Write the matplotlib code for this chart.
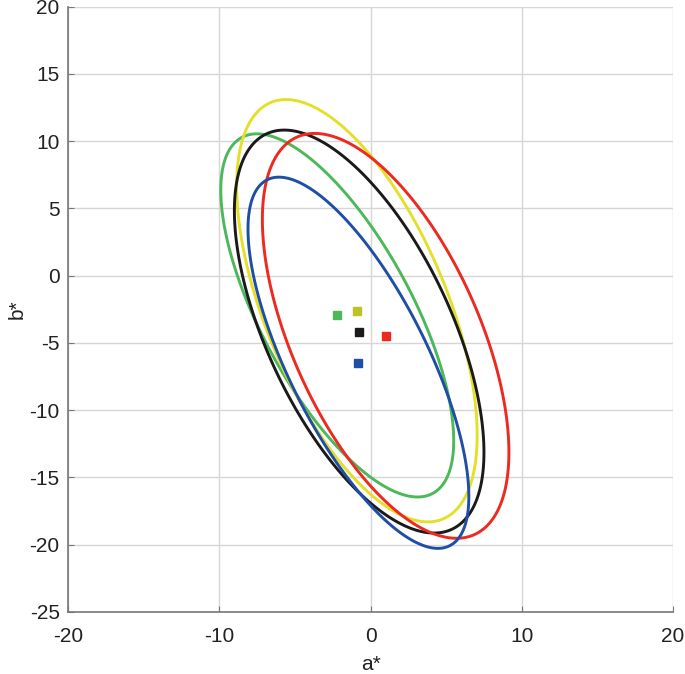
import numpy as np
import matplotlib.pyplot as plt
from matplotlib.patches import Polygon

plt.rcParams['font.family'] = ['Liberation Sans', 'DejaVu Sans']
plt.rcParams['axes.unicode_minus'] = False

# ellipse data: centre, half extent along a*/b*, correlation
names = ['green', 'yellow', 'black', 'red', 'blue']
colors = ['#4cb85a', '#e4e02a', '#1a1a1a', '#ec2a20', '#1f4ea6']
marker_colors = ['#4cb85a', '#bcc425', '#1a1a1a', '#ec2a20', '#1f4ea6']
center_a = [-2.2, -0.9, -0.75, 1.0, -0.8]
center_b = [-2.95, -2.6, -4.15, -4.47, -6.47]
half_a = [7.7, 7.95, 8.25, 8.15, 7.3]
half_b = [13.5, 15.7, 14.98, 15.05, 13.8]
rho = [-0.69, -0.59, -0.60, -0.575, -0.72]

x_ticks = [-20, -10, 0, 10, 20]
y_ticks = [-25, -20, -15, -10, -5, 0, 5, 10, 15, 20]

fig = plt.figure(figsize=(6.85, 6.74), dpi=100)
ax = fig.add_axes([0.0993, 0.092, 0.8832, 0.898])

t = np.linspace(0, 2 * np.pi, 400, endpoint=False)
for i in range(len(names)):
    x = center_a[i] + half_a[i] * np.cos(t)
    y = center_b[i] + half_b[i] * (rho[i] * np.cos(t) + np.sqrt(1 - rho[i] ** 2) * np.sin(t))
    ring = Polygon(np.column_stack([x, y]), closed=True, fill=False,
                   edgecolor=colors[i], lw=2.1, joinstyle='round', zorder=3)
    ax.add_patch(ring)
    ax.plot(center_a[i], center_b[i], 's', color=marker_colors[i], ms=5.5, zorder=4)

ax.set_xlim(-20, 20)
ax.set_ylim(-25, 20)
ax.set_xticks(x_ticks)
ax.set_yticks(y_ticks)
ax.grid(True, color='#d6d6d6', lw=1.0)
ax.set_axisbelow(True)

for side in ['top', 'right']:
    ax.spines[side].set_visible(False)
for side in ['left', 'bottom']:
    ax.spines[side].set_color('#777777')
    ax.spines[side].set_linewidth(1.2)

ax.tick_params(direction='in', length=4, color='#777777', labelsize=15, labelcolor='#222222')
ax.tick_params(axis='x', pad=11)
ax.tick_params(axis='y', pad=6)
ax.set_xlabel('a*', fontsize=15, color='#222222', labelpad=6)
ax.set_ylabel('b*', fontsize=15, color='#222222', labelpad=2)

fig.savefig('out.png', dpi=100)
